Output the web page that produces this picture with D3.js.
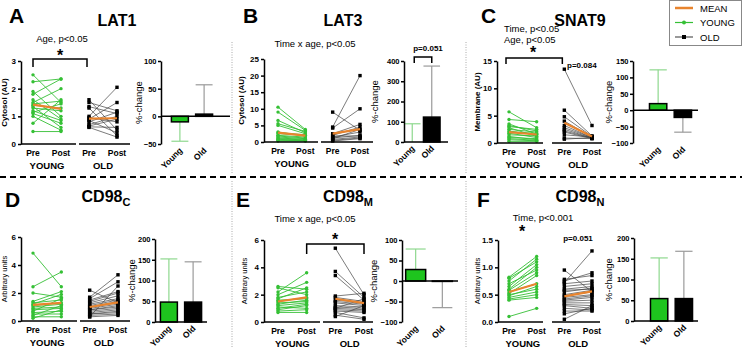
<!DOCTYPE html>
<html>
<head>
<meta charset="utf-8">
<script src="https://cdn.jsdelivr.net/npm/d3@7"></script>
<style>
  body { margin: 0; background: #fff; }
  svg { font-family: "Liberation Sans", Arial, sans-serif; }
  .ax path, .ax line { stroke: #000; stroke-width: 1.5; }
  .ax text { font-size: 8px; font-weight: bold; fill: #000; }
  .bar-ax text { font-size: 7.5px; }
</style>
</head>
<body>
<svg id="chart" width="742" height="350"></svg>
<script>
// x categories
var timeKeys = ["yPre", "yPost", "oPre", "oPost"];
var timeLabels = ["Pre", "Post", "Pre", "Post"];
var barKeys = ["Young", "Old"];
var legendKeys = ["MEAN", "YOUNG", "OLD"];

// A - LAT1 (cytosol)
var aYoungPre  = [2.5, 2.25, 1.9, 1.8, 1.6, 1.5, 1.45, 1.4, 1.35, 1.3, 1.2, 1.15, 1.1, 1.0, 0.75, 0.45];
var aYoungPost = [1.5, 2.35, 1.0, 2.35, 0.9, 2.0, 1.55, 1.3, 0.6, 1.2, 0.85, 1.45, 0.75, 0.5, 1.6, 0.45];
var aOldPre    = [1.6, 1.5, 1.35, 1.3, 1.0, 0.95, 0.9, 0.85, 0.8, 0.7, 0.65, 0.62, 0.6];
var aOldPost   = [0.5, 1.2, 1.1, 0.3, 2.05, 0.8, 1.5, 0.4, 1.15, 1.0, 0.9, 0.6, 0.25];
var aMeanYoung = [1.42, 1.27];
var aMeanOld   = [0.92, 0.93];
var aBarMean = [-10, 4];
var aBarSd   = [35, 53];

// B - LAT3 (cytosol)
var bYoungPre  = [10.5, 9, 6.5, 5.5, 5, 3, 2.8, 2.5, 2, 1.8, 1.5, 1.2, 1, 0.8, 0.5, 0.3];
var bYoungPost = [3.8, 3.5, 2.8, 3.2, 2.5, 1.8, 2.2, 2, 1.5, 1.2, 1, 0.8, 0.6, 0.5, 0.4, 0.3];
var bOldPre    = [9, 4.5, 4.2, 2.5, 2, 1.8, 1.5, 1.2, 1, 0.8, 0.5, 0.3];
var bOldPost   = [3.5, 20, 10, 5.3, 4.5, 1.8, 3, 2, 3.8, 1.5, 1.2, 1];
var bMeanYoung = [2.8, 1.9];
var bMeanOld   = [2.5, 3.9];
var bBarMean = [0, 123];
var bBarSd   = [90, 252];

// C - SNAT9 (membrane)
var cYoungPre  = [5.7, 4.3, 3.5, 3.2, 3.0, 2.8, 2.5, 2.2, 2.0, 1.8, 1.5, 1.2, 1.0, 0.8, 0.6, 0.3];
var cYoungPost = [2.8, 3.9, 1.6, 2.2, 2.5, 1.2, 2.0, 1.5, 1.8, 1.0, 1.3, 0.6, 0.8, 0.5, 0.4, 0.3];
var cOldPre    = [13.5, 6.0, 4.8, 4.0, 3.2, 2.8, 2.5, 2.2, 2.0, 1.5, 0.9, 0.7];
var cOldPost   = [3.2, 1.3, 1.2, 1.1, 1.0, 1.0, 0.9, 0.9, 0.8, 1.1, 0.8, 1.0];
var cMeanYoung = [2.0, 1.55];
var cMeanOld   = [3.7, 1.2];
var cBarMean = [20, -22];
var cBarSd   = [103, 45];

// D - CD98 C
var dYoungPre  = [4.85, 2.45, 2.0, 1.4, 1.3, 1.2, 1.1, 1.0, 0.9, 0.8, 0.7, 0.6, 0.5, 0.4, 0.3, 0.2];
var dYoungPost = [2.45, 3.5, 1.7, 2.1, 1.5, 1.9, 1.3, 1.2, 1.0, 0.9, 1.6, 0.7, 0.5, 1.1, 0.3, 0.8];
var dOldPre    = [2.2, 1.7, 1.6, 1.5, 1.4, 1.3, 1.2, 1.1, 1.0, 1.0, 0.9, 0.8, 0.8, 0.7, 0.6, 0.5, 0.5, 0.4, 0.3, 0.3];
var dOldPost   = [1.3, 3.3, 2.8, 2.1, 2.0, 1.8, 1.6, 1.5, 1.4, 1.3, 1.2, 1.1, 1.0, 0.9, 0.8, 0.7, 0.6, 0.5, 0.4, 2.5];
var dMeanYoung = [1.15, 1.3];
var dMeanOld   = [1.0, 1.33];
var dBarMean = [48, 48];
var dBarSd   = [104, 97];

// E - CD98 M
var eYoungPre  = [2.6, 2.5, 2.2, 2.0, 1.8, 1.7, 1.6, 1.5, 1.4, 1.3, 1.2, 1.1, 1.0, 0.9, 0.8, 0.7];
var eYoungPost = [2.4, 2.0, 3.6, 2.9, 2.2, 2.5, 1.7, 1.8, 1.5, 1.6, 1.4, 1.0, 1.3, 1.2, 0.9, 0.7];
var eOldPre    = [5.4, 3.7, 3.4, 1.9, 1.8, 1.6, 1.5, 1.4, 1.2, 1.1, 1.0, 1.0, 0.9, 0.8, 0.7, 0.5, 0.4];
var eOldPost   = [2.0, 1.8, 1.6, 2.1, 1.5, 1.4, 1.3, 1.2, 1.1, 1.0, 0.9, 1.7, 0.8, 0.7, 0.3, 0.2, 1.2];
var eMeanYoung = [1.5, 1.8];
var eMeanOld   = [1.7, 1.38];
var eBarMean = [28, -1];
var eBarSd   = [50, 64];

// F - CD98 N
var fYoungPre  = [0.82, 0.8, 0.75, 0.7, 0.65, 0.6, 0.58, 0.55, 0.52, 0.5, 0.48, 0.45, 0.42, 0.4, 0.1];
var fYoungPost = [1.2, 1.1, 1.15, 0.95, 1.05, 1.0, 0.9, 0.7, 0.85, 0.6, 0.65, 0.55, 0.5, 0.45, 0.25];
var fOldPre    = [0.95, 0.78, 0.75, 0.72, 0.7, 0.65, 0.6, 0.58, 0.55, 0.5, 0.48, 0.45, 0.42, 0.4, 0.38, 0.35, 0.32, 0.3, 0.25, 0.2, 0.15, 0.05];
var fOldPost   = [0.55, 0.85, 0.9, 1.3, 0.75, 0.7, 0.65, 0.6, 0.62, 0.58, 0.55, 0.5, 0.48, 0.45, 0.4, 0.35, 0.3, 0.25, 0.22, 0.2, 0.25, 0.3];
var fMeanYoung = [0.55, 0.7];
var fMeanOld   = [0.47, 0.56];
var fBarMean = [54, 54];
var fBarSd   = [98, 114];

var svg = d3.select("#chart");
var green = "#35c035", barGreen = "#1ec41e", orange = "#e8842e";

function txt(x, y, s, size, weight, anchor) {
  return svg.append("text").attr("x", x).attr("y", y).text(s)
    .attr("font-size", size).attr("font-weight", weight || "normal")
    .attr("text-anchor", anchor || "middle").attr("fill", "#000");
}

function bracket(x1, x2, y, drop) {
  svg.append("path")
    .attr("d", "M" + x1 + "," + (y + drop) + "V" + y + "H" + x2 + "V" + (y + drop))
    .attr("fill", "none").attr("stroke", "#000").attr("stroke-width", 1.5);
}

function linePlot(p, yPre, yPost, oPre, oPost, mY, mO) {
  var x = d3.scalePoint().domain(timeKeys).range([p.x0, p.x1]);
  var y = d3.scaleLinear().domain([0, p.ymax]).range([p.yb, p.yt]);
  var g = svg.append("g");

  var line = d3.line().x(function (d) { return x(d[0]); }).y(function (d) { return y(d[1]); });

  var young = yPre.map(function (v, i) { return [["yPre", v], ["yPost", yPost[i]]]; });
  var old = oPre.map(function (v, i) { return [["oPre", v], ["oPost", oPost[i]]]; });

  g.selectAll(".yl").data(young).enter().append("path")
    .attr("d", line).attr("fill", "none").attr("stroke", green).attr("stroke-width", 0.9);
  g.selectAll(".yp").data(young.flat()).enter().append("circle")
    .attr("cx", function (d) { return x(d[0]); }).attr("cy", function (d) { return y(d[1]); })
    .attr("r", 1.7).attr("fill", green);

  g.selectAll(".ol").data(old).enter().append("path")
    .attr("d", line).attr("fill", "none").attr("stroke", "#444").attr("stroke-width", 0.7);
  g.selectAll(".op").data(old.flat()).enter().append("rect")
    .attr("x", function (d) { return x(d[0]) - 1.7; }).attr("y", function (d) { return y(d[1]) - 1.7; })
    .attr("width", 3.4).attr("height", 3.4).attr("fill", "#000");

  var means = [[["yPre", mY[0]], ["yPost", mY[1]]], [["oPre", mO[0]], ["oPost", mO[1]]]];
  g.selectAll(".ml").data(means).enter().append("path")
    .attr("d", line).attr("fill", "none").attr("stroke", orange).attr("stroke-width", 2.2);

  var yAxis = d3.axisLeft(y).tickValues(p.ticks).tickSize(3).tickSizeOuter(0).tickPadding(2)
    .tickFormat(p.fmt || d3.format("d"));
  g.append("g").attr("class", "ax").attr("transform", "translate(" + p.ax + ",0)").call(yAxis);

  // broken x baseline
  [[p.ax, p.brk[0]], [p.brk[1], p.oEnd]].forEach(function (s) {
    g.append("line").attr("x1", s[0]).attr("x2", s[1]).attr("y1", y(0)).attr("y2", y(0))
      .attr("stroke", "#000").attr("stroke-width", 1.5);
  });

  timeKeys.forEach(function (k, i) {
    txt(x(k), p.yb + 12, timeLabels[i], 8.5, "bold");
  });
  txt((x("yPre") + x("yPost")) / 2, p.yb + 25, "YOUNG", 9.5, "bold");
  txt((x("oPre") + x("oPost")) / 2, p.yb + 25, "OLD", 9.5, "bold");

  svg.append("text").attr("transform", "translate(" + p.tx + "," + (p.yt + p.yb) / 2 + ") rotate(-90)")
    .attr("text-anchor", "middle").attr("font-size", p.tsize || 8).attr("font-weight", p.tweight || "bold")
    .text(p.title);
  return x;
}

function barPlot(p, means, sds) {
  var x = d3.scaleBand().domain(barKeys).range([p.x0, p.x1]).paddingInner(p.pad || 0.3).paddingOuter(0.1);
  var y = d3.scaleLinear().domain(p.dom).range([p.yb, p.yt]);
  var g = svg.append("g");
  var rows = barKeys.map(function (k, i) { return { k: k, m: means[i], sd: sds[i] }; });
  var bw = x.bandwidth();

  rows.forEach(function (r, i) {
    var dir = r.m < 0 ? -1 : 1;
    var cx = x(r.k) + bw / 2;
    var e = y(r.m + dir * r.sd);
    var col = i === 0 ? "#8ed88e" : "#9a9a9a";
    g.append("line").attr("x1", cx).attr("x2", cx).attr("y1", y(r.m)).attr("y2", e)
      .attr("stroke", col).attr("stroke-width", 1.2);
    g.append("line").attr("x1", cx - bw / 2).attr("x2", cx + bw / 2).attr("y1", e).attr("y2", e)
      .attr("stroke", col).attr("stroke-width", 1.2);
  });

  g.selectAll("rect").data(rows).enter().append("rect")
    .attr("x", function (d) { return x(d.k); })
    .attr("y", function (d) { return Math.min(y(d.m), y(0)); })
    .attr("width", bw)
    .attr("height", function (d) { return Math.abs(y(d.m) - y(0)); })
    .attr("fill", function (d, i) { return i === 0 ? barGreen : "#000"; })
    .attr("stroke", "#000").attr("stroke-width", 1.5);

  g.append("line").attr("x1", p.ax).attr("x2", p.xe).attr("y1", y(0)).attr("y2", y(0))
    .attr("stroke", "#000").attr("stroke-width", 1.5);

  var yAxis = d3.axisLeft(y).tickValues(p.ticks).tickSize(3).tickSizeOuter(0).tickPadding(1.5);
  g.append("g").attr("class", "ax bar-ax").attr("transform", "translate(" + p.ax + ",0)").call(yAxis);

  rows.forEach(function (r) {
    svg.append("text")
      .attr("transform", "translate(" + (x(r.k) + bw / 2 + 3) + "," + (p.yb + 7) + ") rotate(-45)")
      .attr("text-anchor", "end").attr("font-size", 8.5).attr("font-weight", "bold").text(r.k);
  });

  svg.append("text").attr("transform", "translate(" + p.tx + "," + (p.yt + p.yb) / 2 + ") rotate(-90)")
    .attr("text-anchor", "middle").attr("font-size", 9.5).text("%-change");
  return x;
}

// panel separators
svg.append("line").attr("x1", 0).attr("x2", 742).attr("y1", 177).attr("y2", 177)
  .attr("stroke", "#000").attr("stroke-width", 2).attr("stroke-dasharray", "6,4");
[232, 466].forEach(function (xv) {
  svg.append("line").attr("x1", xv).attr("x2", xv).attr("y1", 42).attr("y2", 174)
    .attr("stroke", "#aaa").attr("stroke-width", 1).attr("stroke-dasharray", "1,1.5");
  svg.append("line").attr("x1", xv).attr("x2", xv).attr("y1", 181).attr("y2", 348)
    .attr("stroke", "#aaa").attr("stroke-width", 1).attr("stroke-dasharray", "1,1.5");
});

// ---------- A ----------
txt(9, 23, "A", 21, "bold", "start");
txt(117, 26, "LAT1", 16, "bold");
var xa = linePlot({ ax: 21, x0: 33, x1: 117, yt: 61, yb: 144, ymax: 3, ticks: [0, 1, 2, 3],
  brk: [76, 79], oEnd: 130, tx: 7, title: "Cytosol (AU)" },
  aYoungPre, aYoungPost, aOldPre, aOldPost, aMeanYoung, aMeanOld);
txt(62, 42, "Age, p<0.05", 9.5);
txt(60, 61, "*", 16, "bold");
bracket(xa("yPre"), xa("oPre") - 2, 59, 8);
barPlot({ ax: 161, x0: 169, x1: 215, xe: 230, yt: 61, yb: 144, dom: [-50, 100],
  ticks: [-50, 0, 50, 100], tx: 142 }, aBarMean, aBarSd);

// ---------- B ----------
txt(243, 23, "B", 21, "bold", "start");
txt(343, 26, "LAT3", 16, "bold");
linePlot({ ax: 264, x0: 278, x1: 360, yt: 59, yb: 142, ymax: 25, ticks: [0, 5, 10, 15, 20, 25],
  brk: [318, 321], oEnd: 373, tx: 244, title: "Cytosol (AU)" },
  bYoungPre, bYoungPost, bOldPre, bOldPost, bMeanYoung, bMeanOld);
txt(315, 47, "Time x age, p<0.05", 9.5);
var xb = barPlot({ ax: 404, x0: 402, x1: 442, xe: 448, yt: 61, yb: 142, dom: [0, 400], pad: 0.15,
  ticks: [0, 100, 200, 300, 400], tx: 378 }, bBarMean, bBarSd);
bracket(xb("Young") + xb.bandwidth() / 2 + 2, xb("Old") + xb.bandwidth() / 2, 57, 6);
txt(428, 51, "p=0.051", 8, "bold");

// ---------- C ----------
txt(481, 23, "C", 21, "bold", "start");
txt(580, 26, "SNAT9", 16, "bold");
var xc = linePlot({ ax: 497, x0: 509, x1: 592, yt: 61, yb: 143, ymax: 15, ticks: [0, 5, 10, 15],
  brk: [543, 552], oEnd: 602, tx: 480, title: "Membrane (AU)" },
  cYoungPre, cYoungPost, cOldPre, cOldPost, cMeanYoung, cMeanOld);
txt(504, 32, "Time, p<0.05", 9.5, "normal", "start");
txt(504, 43, "Age, p<0.05", 9.5, "normal", "start");
txt(533, 58, "*", 16, "bold");
bracket(xc("yPre") - 3, xc("oPre") - 2, 58, 6);
txt(567, 68, "p=0.084", 8, "bold", "start");
barPlot({ ax: 633, x0: 647, x1: 694, xe: 698, yt: 61, yb: 143, dom: [-100, 150],
  ticks: [-100, -50, 0, 50, 100, 150], tx: 612 }, cBarMean, cBarSd);

// legend
svg.append("rect").attr("x", 669.5).attr("y", 0.5).attr("width", 72).attr("height", 45)
  .attr("fill", "#fff").attr("stroke", "#888");
legendKeys.forEach(function (k, i) {
  var ly = 8 + i * 14.5;
  var col = [orange, green, "#555"][i];
  svg.append("line").attr("x1", 675).attr("x2", 693).attr("y1", ly).attr("y2", ly)
    .attr("stroke", col).attr("stroke-width", i === 0 ? 2.5 : 1.2);
  if (i === 1) svg.append("circle").attr("cx", 684).attr("cy", ly).attr("r", 2).attr("fill", green);
  if (i === 2) svg.append("rect").attr("x", 682).attr("y", ly - 2).attr("width", 4).attr("height", 4).attr("fill", "#000");
  txt(700, ly + 3.5, k, 9.5, "normal", "start");
});

// ---------- D ----------
txt(5, 207, "D", 21, "bold", "start");
var td = txt(106, 202, "CD98", 16, "bold");
td.append("tspan").attr("font-size", 11).attr("dy", 4).text("C");
linePlot({ ax: 21, x0: 33, x1: 118, yt: 237, yb: 321, ymax: 6, ticks: [0, 2, 4, 6],
  brk: [77, 80], oEnd: 130, tx: 7, title: "Arbitrary units", tsize: 7.5, tweight: "normal" },
  dYoungPre, dYoungPost, dOldPre, dOldPost, dMeanYoung, dMeanOld);
barPlot({ ax: 155, x0: 158, x1: 204, xe: 207, yt: 239, yb: 322, dom: [0, 200],
  ticks: [0, 50, 100, 150, 200], tx: 135 }, dBarMean, dBarSd);

// ---------- E ----------
txt(236, 207, "E", 21, "bold", "start");
var te = txt(348, 202, "CD98", 16, "bold");
te.append("tspan").attr("font-size", 11).attr("dy", 4).text("M");
var xe = linePlot({ ax: 264, x0: 278, x1: 364, yt: 240, yb: 322, ymax: 6, ticks: [0, 2, 4, 6],
  brk: [320, 323], oEnd: 373, tx: 247, title: "Arbitrary units", tsize: 7.5, tweight: "normal" },
  eYoungPre, eYoungPost, eOldPre, eOldPost, eMeanYoung, eMeanOld);
txt(315, 222, "Time x age, p<0.05", 9.5);
txt(335, 245, "*", 16, "bold");
bracket(xe("yPost"), xe("oPost"), 244, 10);
barPlot({ ax: 402, x0: 403, x1: 455, xe: 458, yt: 240, yb: 322, dom: [-100, 100], pad: 0.25,
  ticks: [-100, -50, 0, 50, 100], tx: 377 }, eBarMean, eBarSd);

// ---------- F ----------
txt(477, 207, "F", 21, "bold", "start");
var tf = txt(580, 202, "CD98", 16, "bold");
tf.append("tspan").attr("font-size", 11).attr("dy", 4).text("N");
linePlot({ ax: 498, x0: 509, x1: 592, yt: 240, yb: 322, ymax: 1.5, ticks: [0, 0.5, 1, 1.5],
  fmt: d3.format(".1f"), brk: [543, 552], oEnd: 600, tx: 480, title: "Arbitrary units", tsize: 7.5, tweight: "normal" },
  fYoungPre, fYoungPost, fOldPre, fOldPost, fMeanYoung, fMeanOld);
txt(543, 221, "Time, p<0.001", 9.5);
txt(522, 237, "*", 16, "bold");
txt(578, 241, "p=0.051", 8, "bold");
barPlot({ ax: 634, x0: 648, x1: 695, xe: 698, yt: 238, yb: 321, dom: [0, 200],
  ticks: [0, 50, 100, 150, 200], tx: 612 }, fBarMean, fBarSd);
</script>
</body>
</html>
